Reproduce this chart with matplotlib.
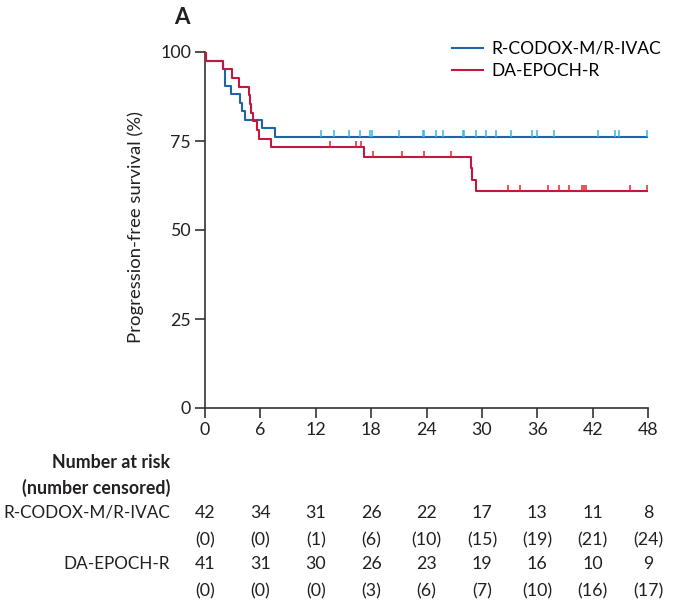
import matplotlib
matplotlib.use('Agg')
from matplotlib import pyplot as plt
from matplotlib import transforms

plt.rcParams['font.family'] = ['Lato', 'DejaVu Sans']

# Kaplan-Meier steps (months, % progression-free)
codox_t = [0, 0.15, 2.0, 2.15, 2.8, 3.8, 4.0, 4.3, 6.2, 7.6, 48]
codox_s = [100, 97.6, 95.2, 90.5, 88.1, 85.7, 83.3, 81.0, 78.6, 76.2, 76.2]
codox_cens = [12.6, 14.0, 15.6, 16.8, 17.9, 18.1, 21.0, 23.6, 23.7, 25.0, 25.8,
              28.0, 28.05, 29.4, 30.5, 31.5, 33.2, 35.4, 36.0, 37.8, 42.6,
              44.4, 44.9, 47.9]

epoch_t = [0, 0.15, 2.0, 2.9, 3.7, 4.8, 4.9, 4.95, 5.2, 5.6, 5.8, 7.2, 17.2,
           28.8, 28.95, 29.4, 48]
epoch_s = [100, 97.6, 95.1, 92.7, 90.2, 87.8, 85.4, 82.9, 80.5, 78.0, 75.6,
           73.2, 70.5, 67.3, 64.1, 60.9, 60.9]
epoch_cens = [13.5, 16.4, 16.9, 18.2, 21.3, 23.7, 26.7, 32.8, 34.1, 37.2,
              38.4, 39.4, 40.9, 41.1, 41.3, 46.1, 47.9]

months = [0, 6, 12, 18, 24, 30, 36, 42, 48]
codox_risk = [42, 34, 31, 26, 22, 17, 13, 11, 8]
codox_censd = [0, 0, 1, 6, 10, 15, 19, 21, 24]
epoch_risk = [41, 31, 30, 26, 23, 19, 16, 10, 9]
epoch_censd = [0, 0, 0, 3, 6, 7, 10, 16, 17]

blue = '#1f63ab'
red = '#c3173f'
blue_tick = '#38b6e6'
red_tick = '#e2232d'
ink = '#231f20'


def surv_at(t, times, surv):
    val = surv[0]
    for tt, ss in zip(times, surv):
        if tt <= t:
            val = ss
    return val


fig = plt.figure(figsize=(6.8, 6.06), dpi=100)
ax = fig.add_axes([205/680, 198/606, 443/680, 356/606])

ax.step(codox_t, codox_s, where='post', color=blue, lw=1.5, label='R-CODOX-M/R-IVAC', zorder=3)
ax.step(epoch_t, epoch_s, where='post', color=red, lw=1.5, label='DA-EPOCH-R', zorder=3)

for c in codox_cens:
    y = surv_at(c, codox_t, codox_s)
    ax.vlines(c, y, y + 1.8, color=blue_tick, lw=1.1, zorder=4)
for c in epoch_cens:
    y = surv_at(c, epoch_t, epoch_s)
    ax.vlines(c, y, y + 1.8, color=red_tick, lw=1.1, zorder=4)

ax.set_xlim(0, 48)
ax.set_ylim(0, 100)
ax.set_xticks(months)
ax.set_yticks([0, 25, 50, 75, 100])
ax.spines['top'].set_visible(False)
ax.spines['right'].set_visible(False)
for s in ['left', 'bottom']:
    ax.spines[s].set_color('#333333')
    ax.spines[s].set_linewidth(1.2)
ax.tick_params(length=7, width=1.2, color='#333333', labelsize=12.8,
               labelcolor=ink, pad=3)
ax.set_ylabel('Progression-free survival (%)', fontsize=13.3, color=ink)
ax.yaxis.set_label_coords(-0.137, 0.508)

ax.legend(loc='upper left', bbox_to_anchor=(452/680, 1 - 41/606),
          bbox_transform=fig.transFigure, frameon=False, fontsize=12.5,
          handlelength=1.8, handletextpad=0.45, labelspacing=0.35,
          borderpad=0, borderaxespad=0)

fig.text(182/680, 1 - 18/606, 'A', fontsize=16, fontweight='bold',
         color=ink, ha='center', va='center')

# number at risk table
tr = transforms.blended_transform_factory(ax.transData, fig.transFigure)
lab_x = 170/680
rows_y = [462, 488, 513, 540, 564, 591]
fig.text(lab_x, 1 - rows_y[0]/606, 'Number at risk', fontsize=12.8,
         fontweight='bold', ha='right', va='center', color=ink)
fig.text(lab_x, 1 - rows_y[1]/606, '(number censored)', fontsize=12.8,
         fontweight='bold', ha='right', va='center', color=ink)
fig.text(lab_x, 1 - rows_y[2]/606, 'R-CODOX-M/R-IVAC', fontsize=12.3,
         ha='right', va='center', color=ink)
fig.text(lab_x, 1 - rows_y[4]/606, 'DA-EPOCH-R', fontsize=12.3,
         ha='right', va='center', color=ink)
for m, a, b, c, d in zip(months, codox_risk, codox_censd, epoch_risk, epoch_censd):
    ax.text(m, 1 - rows_y[2]/606, str(a), transform=tr, ha='center', va='center', fontsize=12.8, color=ink)
    ax.text(m, 1 - rows_y[3]/606, '(%d)' % b, transform=tr, ha='center', va='center', fontsize=12.8, color=ink)
    ax.text(m, 1 - rows_y[4]/606, str(c), transform=tr, ha='center', va='center', fontsize=12.8, color=ink)
    ax.text(m, 1 - rows_y[5]/606, '(%d)' % d, transform=tr, ha='center', va='center', fontsize=12.8, color=ink)

fig.savefig('out.png', dpi=100)
